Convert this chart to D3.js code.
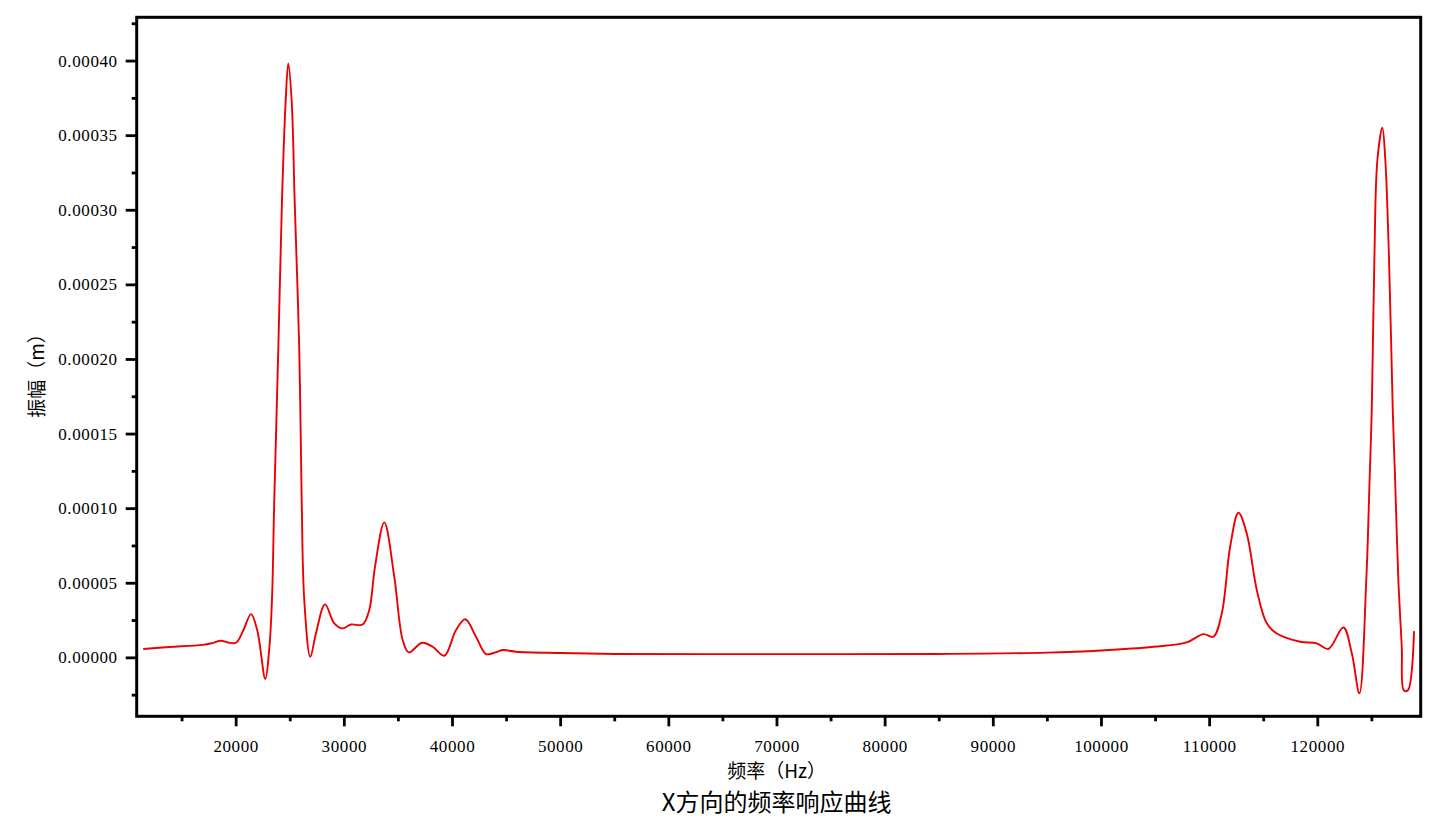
<!DOCTYPE html>
<html>
<head>
<meta charset="utf-8">
<script src="https://cdn.jsdelivr.net/npm/d3@7"></script>
<style>
  html, body { margin: 0; padding: 0; background: #fff; }
  svg { display: block; }
  .cjk { font-family: "Noto Sans CJK SC", "Liberation Serif", sans-serif; fill: #000; }
</style>
</head>
<body>
<svg id="chart" width="1452" height="818"></svg>
<script>
// frequency (Hz) and amplitude (m)
var freq = [
  11450, 13860, 16950, 17800, 18640, 19300, 20030, 20700, 21420, 22000,
  22740, 23100, 23356, 23569, 23939, 24281, 24623, 24863, 25178, 25455,
  25880, 26102, 26343, 26900, 27420, 28260, 29117, 29890, 30660, 31740,
  32350, 32880, 33740, 34665, 35440, 36000, 37230, 38215, 39290, 40370,
  41230, 42220, 43140, 43910, 44690, 45920, 50000, 55000, 70000, 85000,
  95000, 100000, 104890, 107930, 109470, 110390, 111170, 111940, 112710, 113480,
  114410, 115330, 116260, 118410, 119950, 121020, 122410, 123190, 123890, 124530,
  124835, 125035, 125275, 125552, 126015, 126292, 126635, 126978, 127196, 127494,
  127810, 128000, 128380, 128945
];
var amp = [
  5.6e-6, 6.9e-6, 8.4e-6, 9.5e-6, 1.11e-5, 1.0e-5, 9.8e-6, 1.8e-5, 2.9e-5, 1.8e-5,
  -1.45e-5, 5e-6, 3.84e-5, 1.055e-4, 2.06e-4, 3.06e-4, 3.73e-4, 3.98e-4, 3.73e-4, 3.06e-4,
  2.06e-4, 1.055e-4, 3.84e-5, 3e-7, 1.6e-5, 3.55e-5, 2.28e-5, 1.94e-5, 2.2e-5, 2.2e-5,
  3.17e-5, 6.07e-5, 9.05e-5, 5.4e-5, 1.16e-5, 3.3e-6, 9.8e-6, 7.1e-6, 1.1e-6, 1.83e-5,
  2.55e-5, 1.38e-5, 2.2e-6, 3.1e-6, 4.9e-6, 3.8e-6, 2.9e-6, 2.3e-6, 2.2e-6, 2.3e-6,
  3.2e-6, 4.6e-6, 7.1e-6, 1.0e-5, 1.56e-5, 1.38e-5, 2.95e-5, 7.4e-5, 9.69e-5, 8.3e-5,
  4.5e-5, 2.28e-5, 1.6e-5, 1.05e-5, 9.4e-6, 5.6e-6, 2.0e-5, 2.7e-6, -2.41e-5, 5.2e-5,
  1.19e-4, 1.657e-4, 2.66e-4, 3.33e-4, 3.55e-4, 3.33e-4, 2.66e-4, 1.657e-4, 1.19e-4, 5.2e-5,
  7e-6, -2.2e-5, -2.2e-5, 1.76e-5
];

var xMajor = [20000, 30000, 40000, 50000, 60000, 70000, 80000, 90000, 100000, 110000, 120000];
var xMinor = [15000, 25000, 35000, 45000, 55000, 65000, 75000, 85000, 95000, 105000, 115000, 125000];
var yMajor = [0, 0.00005, 0.0001, 0.00015, 0.0002, 0.00025, 0.0003, 0.00035, 0.0004];
var yMinor = [-0.000025, 0.000025, 0.000075, 0.000125, 0.000175, 0.000225, 0.000275, 0.000325, 0.000375, 0.000425];

var title = "X方向的频率响应曲线",
    xTitle = "频率（Hz）",
    yTitle = "振幅（m）";

var box = {left: 136.7, right: 1420.7, top: 17.3, bottom: 716.3};

var svg = d3.select("#chart");

var x = d3.scaleLinear().domain([10850, 129560]).range([box.left, box.right]);
var y = d3.scaleLinear().domain([-0.0000395, 0.000429]).range([box.bottom, box.top]);

// clip
svg.append("clipPath").attr("id", "plotClip")
  .append("rect")
  .attr("x", box.left).attr("y", box.top)
  .attr("width", box.right - box.left).attr("height", box.bottom - box.top);

// curve
var pts = freq.map(function(f, i){ return [f, amp[i]]; });
var line = d3.line()
  .x(function(d){ return x(d[0]); })
  .y(function(d){ return y(d[1]); })
  .curve(d3.curveCatmullRom.alpha(0.5));

svg.append("path")
  .datum(pts)
  .attr("clip-path", "url(#plotClip)")
  .attr("fill", "none")
  .attr("stroke", "#ee0000")
  .attr("stroke-width", 1.9)
  .attr("stroke-linejoin", "round")
  .attr("d", line);

// axes
var gXMinor = svg.append("g")
  .attr("transform", "translate(0," + box.bottom + ")")
  .call(d3.axisBottom(x).tickValues(xMinor).tickSize(5).tickFormat(""));
var gX = svg.append("g")
  .attr("transform", "translate(0," + box.bottom + ")")
  .call(d3.axisBottom(x).tickValues(xMajor).tickSize(10).tickPadding(14).tickFormat(d3.format("d")));

var gYMinor = svg.append("g")
  .attr("transform", "translate(" + box.left + ",0)")
  .call(d3.axisLeft(y).tickValues(yMinor).tickSize(5).tickFormat(""));
var gY = svg.append("g")
  .attr("transform", "translate(" + box.left + ",0)")
  .call(d3.axisLeft(y).tickValues(yMajor).tickSize(11).tickPadding(8).tickFormat(d3.format(".5f")));

[gXMinor, gX, gYMinor, gY].forEach(function(g){
  g.attr("font-family", "'Liberation Serif', 'DejaVu Serif', serif").attr("font-size", 17);
  g.select(".domain").remove();
  g.selectAll(".tick line").attr("stroke", "#000").attr("stroke-width", 2.8);
  g.selectAll(".tick text").attr("fill", "#000").style("letter-spacing", "0.6px");
});
gX.selectAll(".tick text").attr("dy", "0.71em");

// frame
svg.append("rect")
  .attr("x", box.left).attr("y", box.top)
  .attr("width", box.right - box.left).attr("height", box.bottom - box.top)
  .attr("fill", "none")
  .attr("stroke", "#000")
  .attr("stroke-width", 3);

// titles
svg.append("text").attr("class", "cjk")
  .attr("x", 776.7).attr("y", 778)
  .attr("text-anchor", "middle")
  .style("font-size", "19px")
  .text(xTitle);

svg.append("text").attr("class", "cjk")
  .attr("x", 776.7).attr("y", 811)
  .attr("text-anchor", "middle")
  .style("font-size", "24px")
  .text(title);

svg.append("text").attr("class", "cjk")
  .attr("transform", "translate(44,371) rotate(-90)")
  .attr("text-anchor", "middle")
  .style("font-size", "19px")
  .text(yTitle);
</script>
</body>
</html>
